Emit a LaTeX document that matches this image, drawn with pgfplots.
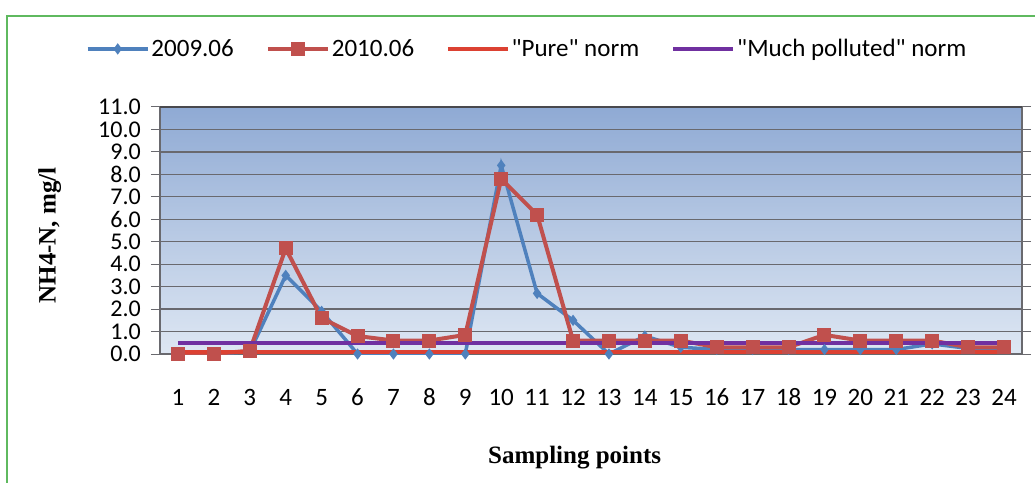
\documentclass[border=0pt]{standalone}
\usepackage{fontspec}
\setmainfont{Carlito}
\newfontfamily\timesfont{Liberation Serif}
\usepackage{pgfplots}
\pgfplotsset{compat=1.18}

\definecolor{frameGreen}{RGB}{95,185,95}
\definecolor{s2009}{RGB}{79,129,189}
\definecolor{s2010}{RGB}{192,80,77}
\definecolor{pureRed}{RGB}{220,65,50}
\definecolor{muchPurple}{RGB}{112,48,160}
\definecolor{bgTop}{RGB}{143,170,212}
\definecolor{bgBot}{RGB}{222,231,243}
\definecolor{gridGray}{RGB}{105,105,110}

\begin{document}
\begin{tikzpicture}
\useasboundingbox (0pt,0pt) rectangle (1035pt,482pt);
\begin{scope}
  \clip (0pt,0pt) rectangle (1035pt,482pt);
  \draw[frameGreen, line width=1.5pt] (7pt,-20pt) -- (7pt,466pt) -- (1060pt,466pt);
\end{scope}
\begin{axis}[
    at={(160pt,128pt)}, anchor=south west,
    scale only axis, width=862pt, height=247pt,
    xmin=0.5, xmax=24.5, ymin=0, ymax=11,
    xtick={1,...,24}, ytick={0,1,...,11},
    axis background/.style={top color=bgTop, bottom color=bgBot},
    ymajorgrids, grid style={gridGray, line width=1.3pt},
    axis line style={gridGray, line width=1.3pt},
    tick align=outside, major tick length=9pt,
    major x tick style={draw=none},
    major y tick style={gridGray, line width=1pt},
    ticklabel style={font=\fontsize{25}{28}\selectfont},
    /pgf/number format/assume math mode=true,
    yticklabel={\pgfmathprintnumber[fixed,fixed zerofill,precision=1]{\tick}},
    yticklabel style={xshift=-10pt, inner sep=0pt, font=\fontsize{24}{24}\selectfont},
    xticklabel style={text height=16pt, yshift=-23pt},
    xlabel={Sampling points},
    ylabel={NH4-N, mg/l},
    label style={font=\timesfont\bfseries\fontsize{25}{28}\selectfont},
    xlabel style={at={(axis description cs:0.481,-0.42)}, anchor=center},
    ylabel style={at={(axis description cs:-0.128,0.48)}, anchor=center},
    legend columns=4,
    legend style={draw=none, fill=none, at={(0.426,1.235)}, anchor=center,
      font=\fontsize{25}{28}\selectfont,
      /tikz/every even column/.append style={column sep=30pt}},
    legend image code/.code={\draw[mark repeat=2,mark phase=2] plot coordinates {(0pt,0pt)(30pt,0pt)(60pt,0pt)};},
  ]
  \addplot[s2009, line width=3.5pt, mark=diamond*, mark size=2.8pt] coordinates {
    (1,0) (2,0) (3,0.1) (4,3.5) (5,1.9) (6,0) (7,0) (8,0) (9,0) (10,8.4)
    (11,2.7) (12,1.5) (13,0) (14,0.8) (15,0.3) (16,0.2) (17,0.2) (18,0.2)
    (19,0.2) (20,0.2) (21,0.2) (22,0.45) (23,0.25) (24,0.25)
  };
  \addlegendentry{2009.06}
  \addplot[s2010, line width=4pt, mark=square*, mark size=5pt] coordinates {
    (1,0) (2,0) (3,0.15) (4,4.7) (5,1.6) (6,0.8) (7,0.6) (8,0.6) (9,0.85) (10,7.8)
    (11,6.2) (12,0.6) (13,0.6) (14,0.6) (15,0.6) (16,0.3) (17,0.3) (18,0.3)
    (19,0.85) (20,0.6) (21,0.6) (22,0.6) (23,0.3) (24,0.3)
  };
  \addlegendentry{2010.06}
  \addplot[pureRed, line width=3.5pt] coordinates {
    (1,0.1) (2,0.1) (3,0.1) (4,0.1) (5,0.1) (6,0.1) (7,0.1) (8,0.1) (9,0.1) (10,0.1)
    (11,0.1) (12,0.1) (13,0.1) (14,0.1) (15,0.1) (16,0.1) (17,0.1) (18,0.1)
    (19,0.1) (20,0.1) (21,0.1) (22,0.1) (23,0.1) (24,0.1)
  };
  \addlegendentry{\textquotedbl Pure\textquotedbl{} norm}
  \addplot[muchPurple, line width=4pt] coordinates {
    (1,0.5) (2,0.5) (3,0.5) (4,0.5) (5,0.5) (6,0.5) (7,0.5) (8,0.5) (9,0.5) (10,0.5)
    (11,0.5) (12,0.5) (13,0.5) (14,0.5) (15,0.5) (16,0.5) (17,0.5) (18,0.5)
    (19,0.5) (20,0.5) (21,0.5) (22,0.5) (23,0.5) (24,0.5)
  };
  \addlegendentry{\textquotedbl Much polluted\textquotedbl{} norm}
  \draw[gridGray!70!black, line width=3pt] (rel axis cs:0,1) -- (rel axis cs:1,1);
\end{axis}
\end{tikzpicture}
\end{document}
